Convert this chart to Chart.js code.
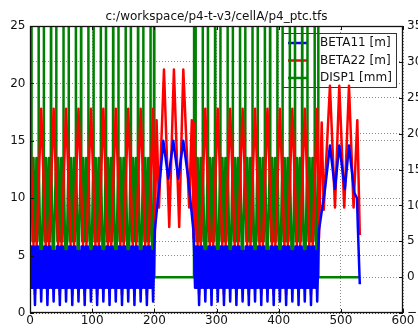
<!DOCTYPE html>
<html><head><meta charset="utf-8">
<script src="https://cdn.jsdelivr.net/npm/chart.js@4.4.0/dist/chart.umd.min.js"></script>
<style>html,body{margin:0;padding:0;background:#fff;}canvas{display:block;}</style>
</head><body>
<canvas id="c" width="418" height="329"></canvas>
<script>
const chartTitle = 'c:/workspace/p4-t-v3/cellA/p4_ptc.tfs';
const seriesLabels = ['BETA11 [m]', 'BETA22 [m]', 'DISP1 [mm]'];
const seriesColors = ['#0000ff', '#ff0000', '#008000'];
const xTicks = [0, 100, 200, 300, 400, 500, 600];
const yTicks = [0, 5, 10, 15, 20, 25];
const y2Ticks = [-5, 0, 5, 10, 15, 20, 25, 30, 35];

const beta11X = [
0,1.5,3,4.5,6,8,
10,11.5,13,14.5,16,18,20,21.5,23,24.5,26,28,
30,31.5,33,34.5,36,38,40,41.5,43,44.5,46,48,
50,51.5,53,54.5,56,58,60,61.5,63,64.5,66,68,
70,71.5,73,74.5,76,78,80,81.5,83,84.5,86,88,
90,91.5,93,94.5,96,98,100,101.5,103,104.5,106,108,
110,111.5,113,114.5,116,118,120,121.5,123,124.5,126,128,
130,131.5,133,134.5,136,138,140,141.5,143,144.5,146,148,
150,151.5,153,154.5,156,158,160,161.5,163,164.5,166,168,
170,171.5,173,174.5,176,178,180,181.5,183,184.5,186,188,
190,191.5,193,194.5,196,198,
200.8,209,214.5,222.5,230.5,238.5,246.6,254.6,262.8,
264,265.5,267,268.5,270,272,
274,275.5,277,278.5,280,282,284,285.5,287,288.5,290,292,
294,295.5,297,298.5,300,302,304,305.5,307,308.5,310,312,
314,315.5,317,318.5,320,322,324,325.5,327,328.5,330,332,
334,335.5,337,338.5,340,342,344,345.5,347,348.5,350,352,
354,355.5,357,358.5,360,362,364,365.5,367,368.5,370,372,
374,375.5,377,378.5,380,382,384,385.5,387,388.5,390,392,
394,395.5,397,398.5,400,402,404,405.5,407,408.5,410,412,
414,415.5,417,418.5,420,422,424,425.5,427,428.5,430,432,
434,435.5,437,438.5,440,442,444,445.5,447,448.5,450,452,
454,455.5,457,458.5,460,462,
464.8,474.5,482.5,490.6,497.5,506.5,513.1,521.5,526,527.5,530.5];
const beta11Y = [
5.4,2.2,5.8,2.2,5.8,0.7,
5.8,2.2,5.8,2.2,5.4,1.0,5.4,2.2,5.8,2.2,5.8,0.7,
5.8,2.2,5.8,2.2,5.4,1.0,5.4,2.2,5.8,2.2,5.8,0.7,
5.8,2.2,5.8,2.2,5.4,1.0,5.4,2.2,5.8,2.2,5.8,0.7,
5.8,2.2,5.8,2.2,5.4,1.0,5.4,2.2,5.8,2.2,5.8,0.7,
5.8,2.2,5.8,2.2,5.4,1.0,5.4,2.2,5.8,2.2,5.8,0.7,
5.8,2.2,5.8,2.2,5.4,1.0,5.4,2.2,5.8,2.2,5.8,0.7,
5.8,2.2,5.8,2.2,5.4,1.0,5.4,2.2,5.8,2.2,5.8,0.7,
5.8,2.2,5.8,2.2,5.4,1.0,5.4,2.2,5.8,2.2,5.8,0.7,
5.8,2.2,5.8,2.2,5.4,1.0,5.4,2.2,5.8,2.2,5.8,0.7,
5.8,2.2,5.8,2.2,5.4,1.0,
7.2,11.7,15,11.7,15,11.7,15,11.7,7.2,
5.4,2.2,5.8,2.2,5.8,0.7,
5.8,2.2,5.8,2.2,5.4,1.0,5.4,2.2,5.8,2.2,5.8,0.7,
5.8,2.2,5.8,2.2,5.4,1.0,5.4,2.2,5.8,2.2,5.8,0.7,
5.8,2.2,5.8,2.2,5.4,1.0,5.4,2.2,5.8,2.2,5.8,0.7,
5.8,2.2,5.8,2.2,5.4,1.0,5.4,2.2,5.8,2.2,5.8,0.7,
5.8,2.2,5.8,2.2,5.4,1.0,5.4,2.2,5.8,2.2,5.8,0.7,
5.8,2.2,5.8,2.2,5.4,1.0,5.4,2.2,5.8,2.2,5.8,0.7,
5.8,2.2,5.8,2.2,5.4,1.0,5.4,2.2,5.8,2.2,5.8,0.7,
5.8,2.2,5.8,2.2,5.4,1.0,5.4,2.2,5.8,2.2,5.8,0.7,
5.8,2.2,5.8,2.2,5.4,1.0,5.4,2.2,5.8,2.2,5.8,0.7,
5.8,2.2,5.8,2.2,5.4,1.0,
7.2,10.8,14.6,10.8,14.6,10.8,14.6,10.5,10,7.3,2.5];

const beta22X = [0,8,18,28,38,48,58,68,78,88,98,108,118,128,138,148,158,168,178,188,198,
200.8,203.6,207.5,215.5,224,231.5,240,246.6,256,260.3,263.2,
264,272,282,292,302,312,322,332,342,352,362,372,382,392,402,412,422,432,442,452,462,
464.8,469.2,472.5,482.5,490.6,497.5,505.5,513.1,520.5,526.5,530.5];
const beta22Y = [16.5,
1.6,17.8, 1.6,17.8, 1.6,17.8, 1.6,17.8, 1.6,17.8, 1.6,17.8, 1.6,17.8, 1.6,17.8, 1.6,17.8, 1.6,17.8,
6.5,16.8,9.2,21.2,7.5,21.2,7.5,21.2,9.2,16.8,6.5,
16.5,
1.6,17.8, 1.6,17.8, 1.6,17.8, 1.6,17.8, 1.6,17.8, 1.6,17.8, 1.6,17.8, 1.6,17.8, 1.6,17.8, 1.6,17.8,
6.5,16.6,9.0,19.8,9.2,19.8,9.2,19.8,9.2,16.8,6.8];

const disp1X = [
0,2.2,2.5,4.1,5.7,7.4,8.6,10.3,11.9,13.5,
13.8,14.1,17.4,18.6,21.9,22.2,22.5,24.1,25.7,27.4,28.6,30.3,31.9,33.5,
33.8,34.1,37.4,38.6,41.9,42.2,42.5,44.1,45.7,47.4,48.6,50.3,51.9,53.5,
53.8,54.1,57.4,58.6,61.9,62.2,62.5,64.1,65.7,67.4,68.6,70.3,71.9,73.5,
73.8,74.1,77.4,78.6,81.9,82.2,82.5,84.1,85.7,87.4,88.6,90.3,91.9,93.5,
93.8,94.1,97.4,98.6,101.9,102.2,102.5,104.1,105.7,107.4,108.6,110.3,111.9,113.5,
113.8,114.1,117.4,118.6,121.9,122.2,122.5,124.1,125.7,127.4,128.6,130.3,131.9,133.5,
133.8,134.1,137.4,138.6,141.9,142.2,142.5,144.1,145.7,147.4,148.6,150.3,151.9,153.5,
153.8,154.1,157.4,158.6,161.9,162.2,162.5,164.1,165.7,167.4,168.6,170.3,171.9,173.5,
173.8,174.1,177.4,178.6,181.9,182.2,182.5,184.1,185.7,187.4,188.6,190.3,191.9,193.5,
193.8,194.1,197.4,198.6,199.4,199.6,200.0,263.8,
264,266.2,266.5,268.1,269.7,271.4,272.6,274.3,275.9,277.5,
277.8,278.1,281.4,282.6,285.9,286.2,286.5,288.1,289.7,291.4,292.6,294.3,295.9,297.5,
297.8,298.1,301.4,302.6,305.9,306.2,306.5,308.1,309.7,311.4,312.6,314.3,315.9,317.5,
317.8,318.1,321.4,322.6,325.9,326.2,326.5,328.1,329.7,331.4,332.6,334.3,335.9,337.5,
337.8,338.1,341.4,342.6,345.9,346.2,346.5,348.1,349.7,351.4,352.6,354.3,355.9,357.5,
357.8,358.1,361.4,362.6,365.9,366.2,366.5,368.1,369.7,371.4,372.6,374.3,375.9,377.5,
377.8,378.1,381.4,382.6,385.9,386.2,386.5,388.1,389.7,391.4,392.6,394.3,395.9,397.5,
397.8,398.1,401.4,402.6,405.9,406.2,406.5,408.1,409.7,411.4,412.6,414.3,415.9,417.5,
417.8,418.1,421.4,422.6,425.9,426.2,426.5,428.1,429.7,431.4,432.6,434.3,435.9,437.5,
437.8,438.1,441.4,442.6,445.9,446.2,446.5,448.1,449.7,451.4,452.6,454.3,455.9,457.5,
457.8,458.1,461.4,462.6,463.4,463.6,464.0,530];
const disp1Y = [
45,45,16.6,5,16.6,5,5,16.6,5,16.6,
45,16.6,0,0,16.6,45,16.6,5,16.6,5,5,16.6,5,16.6,
45,16.6,0,0,16.6,45,16.6,5,16.6,5,5,16.6,5,16.6,
45,16.6,0,0,16.6,45,16.6,5,16.6,5,5,16.6,5,16.6,
45,16.6,0,0,16.6,45,16.6,5,16.6,5,5,16.6,5,16.6,
45,16.6,0,0,16.6,45,16.6,5,16.6,5,5,16.6,5,16.6,
45,16.6,0,0,16.6,45,16.6,5,16.6,5,5,16.6,5,16.6,
45,16.6,0,0,16.6,45,16.6,5,16.6,5,5,16.6,5,16.6,
45,16.6,0,0,16.6,45,16.6,5,16.6,5,5,16.6,5,16.6,
45,16.6,0,0,16.6,45,16.6,5,16.6,5,5,16.6,5,16.6,
45,16.6,0,0,16.6,45,0,0,
45,45,16.6,5,16.6,5,5,16.6,5,16.6,
45,16.6,0,0,16.6,45,16.6,5,16.6,5,5,16.6,5,16.6,
45,16.6,0,0,16.6,45,16.6,5,16.6,5,5,16.6,5,16.6,
45,16.6,0,0,16.6,45,16.6,5,16.6,5,5,16.6,5,16.6,
45,16.6,0,0,16.6,45,16.6,5,16.6,5,5,16.6,5,16.6,
45,16.6,0,0,16.6,45,16.6,5,16.6,5,5,16.6,5,16.6,
45,16.6,0,0,16.6,45,16.6,5,16.6,5,5,16.6,5,16.6,
45,16.6,0,0,16.6,45,16.6,5,16.6,5,5,16.6,5,16.6,
45,16.6,0,0,16.6,45,16.6,5,16.6,5,5,16.6,5,16.6,
45,16.6,0,0,16.6,45,16.6,5,16.6,5,5,16.6,5,16.6,
45,16.6,0,0,16.6,45,0,0];

function toPts(xs, ys) { return xs.map((x, i) => ({x: x, y: ys[i]})); }

const FONT = {family: "'DejaVu Sans', sans-serif", size: 12, weight: 'normal'};
const TXT = '#111';
const LW = 2.5;

function drawLegend(chart) {
  const ctx = chart.ctx;
  ctx.save();
  ctx.fillStyle = '#fff';
  ctx.fillRect(282, 33, 115, 55);
  ctx.strokeStyle = '#333';
  ctx.lineWidth = 1;
  ctx.strokeRect(282.5, 33.5, 114, 54);
  const rows = [43, 60.5, 78];
  ctx.font = "12px 'DejaVu Sans', sans-serif";
  ctx.textBaseline = 'middle';
  ctx.textAlign = 'left';
  chart.data.datasets.forEach((ds, i) => {
    ctx.strokeStyle = ds.borderColor;
    ctx.lineWidth = LW;
    ctx.beginPath();
    ctx.moveTo(288, rows[i]);
    ctx.lineTo(308, rows[i]);
    ctx.stroke();
    ctx.fillStyle = TXT;
    ctx.fillText(ds.label, 320, rows[i]);
  });
  ctx.restore();
}

const framePlugin = {
  id: 'frame',
  beforeDatasetsDraw(chart) {
    drawLegend(chart);
  },
  afterDraw(chart) {
    const ctx = chart.ctx, a = chart.chartArea, s = chart.scales;
    ctx.save();
    ctx.strokeStyle = '#111';
    ctx.lineWidth = 1;
    ctx.beginPath();
    xTicks.forEach(v => {
      const px = Math.round(s.x.getPixelForValue(v)) + 0.5;
      ctx.moveTo(px, a.bottom); ctx.lineTo(px, a.bottom - 4);
      ctx.moveTo(px, a.top); ctx.lineTo(px, a.top + 4);
    });
    yTicks.forEach(v => {
      const py = Math.round(s.y.getPixelForValue(v)) + 0.5;
      ctx.moveTo(a.left, py); ctx.lineTo(a.left + 4, py);
    });
    y2Ticks.forEach(v => {
      const py = Math.round(s.y2.getPixelForValue(v)) + 0.5;
      ctx.moveTo(a.right, py); ctx.lineTo(a.right - 4, py);
    });
    ctx.stroke();
    ctx.lineWidth = 1.3;
    ctx.strokeRect(a.left + 0.5, a.top + 0.5, a.right - a.left - 1, a.bottom - a.top - 1);
    ctx.restore();
  }
};

const gridOpts = {color: 'rgba(0,0,0,0.45)', lineWidth: 1, drawTicks: false};

new Chart(document.getElementById('c'), {
  type: 'line',
  data: {
    datasets: [
      {label: seriesLabels[0], data: toPts(beta11X, beta11Y), borderColor: seriesColors[0], yAxisID: 'y', order: 0},
      {label: seriesLabels[1], data: toPts(beta22X, beta22Y), borderColor: seriesColors[1], yAxisID: 'y', order: 1},
      {label: seriesLabels[2], data: toPts(disp1X, disp1Y), borderColor: seriesColors[2], yAxisID: 'y2', order: 2}
    ]
  },
  options: {
    responsive: false,
    animation: false,
    devicePixelRatio: 1,
    events: [],
    layout: {padding: 0},
    elements: {
      line: {borderWidth: LW, tension: 0, fill: false, borderJoinStyle: 'round'},
      point: {radius: 0, hitRadius: 0, hoverRadius: 0}
    },
    plugins: {
      legend: {display: false},
      tooltip: {enabled: false},
      title: {display: true, fullSize: false, text: chartTitle, color: TXT, font: FONT, padding: {top: 9.5, bottom: 2.1}}
    },
    scales: {
      x: {
        type: 'linear', min: 0, max: 600,
        ticks: {stepSize: 100, autoSkip: false, maxRotation: 0, color: TXT, font: FONT, padding: 1},
        grid: gridOpts, border: {display: false, dash: [1, 2]},
        afterFit: sc => { sc.height = 16; }
      },
      y: {
        position: 'left', min: 0, max: 25,
        ticks: {stepSize: 5, autoSkip: false, color: TXT, font: FONT, padding: 4.5},
        grid: gridOpts, border: {display: false, dash: [1, 2]},
        afterFit: sc => { sc.width = 30; }
      },
      y2: {
        position: 'right', min: -5, max: 35,
        ticks: {stepSize: 5, autoSkip: false, color: TXT, font: FONT, padding: 4,
          callback: v => (v < 0 ? '\u2212' + Math.abs(v) : String(v))},
        grid: gridOpts, border: {display: false, dash: [1, 2]},
        afterFit: sc => { sc.width = 15; }
      }
    }
  },
  plugins: [framePlugin]
});
</script>
</body></html>
